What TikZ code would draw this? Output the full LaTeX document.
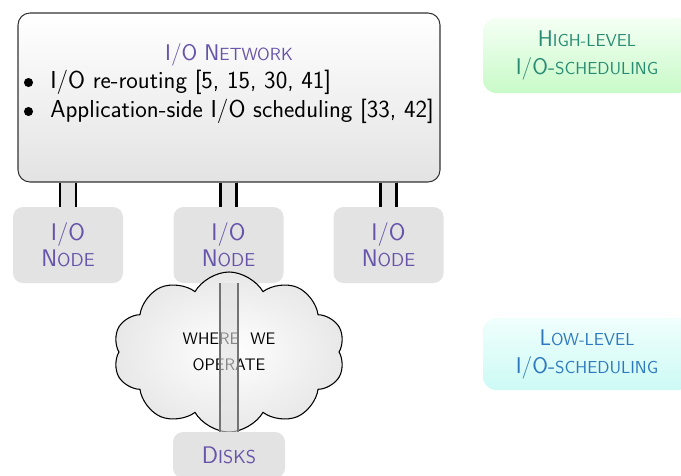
\documentclass[tikz,border=0pt]{standalone}
\usepackage{fontspec}
\usetikzlibrary{shapes.symbols}
\definecolor{ttl}{RGB}{103,84,170}
\definecolor{hitxt}{RGB}{40,140,115}
\definecolor{lotxt}{RGB}{45,120,190}
\definecolor{hitop}{RGB}{245,255,245}
\definecolor{hibot}{RGB}{200,250,200}
\definecolor{lotop}{RGB}{240,255,252}
\definecolor{lobot}{RGB}{205,250,245}
\newcommand\fs[2]{{\fontsize{#1}{#1}\selectfont #2}}
\tikzset{
  netbox/.style={draw=black!80, line width=0.8pt, rounded corners=9pt, top color=white, bottom color=black!11,
    minimum width=316.5pt, minimum height=126.75pt},
  ionode/.style={fill=black!11, rounded corners=7.5pt, minimum width=82.5pt, minimum height=57pt,
    text=ttl, align=center, font=\sffamily\fontsize{18}{19.5}\selectfont},
  sidebox/.style={rounded corners=10pt, minimum width=156pt, align=center,
    font=\sffamily\fontsize{17}{21}\selectfont},
  bodytext/.style={anchor=base west, font=\sffamily\fontsize{18.4}{20}\selectfont, inner sep=0pt},
  bulletdot/.style={fill=black, circle, inner sep=0pt, minimum size=6.8pt},
  linkfill/.style={fill=black!11},
  linkline/.style={draw=black, line width=1.8pt},
  thrufill/.style={fill=black!12, fill opacity=0.6},
  thruline/.style={draw=black!55, line width=1.6pt},
}
\begin{document}
\begin{tikzpicture}[x=0.75pt,y=-0.75pt]
\useasboundingbox (0,0) rectangle (681,475);
\clip (0,0) rectangle (681,475);
% network box
\node[netbox] (net) at (229,97.5) {};
\node[text=ttl, font=\sffamily\fontsize{17}{20}\selectfont, anchor=base] (nettitle) at (229,60) {I/O N\fs{13.2}{ETWORK}};
\node[bulletdot] (d1) at (28.5,82.5) {};
\node[bodytext] (b1) at (50,88) {I/O re-routing [5, 15, 30, 41]};
\node[bulletdot] (d2) at (28.5,111.5) {};
\node[bodytext] (b2) at (50,117) {Application-side I/O scheduling [33, 42]};
% io nodes
\node[ionode] (ioL) at (68,245) {I/O\\N\fs{14}{ODE}};
\node[ionode] (ioM) at (228.5,245) {I/O\\N\fs{14}{ODE}};
\node[ionode] (ioR) at (388.5,245) {I/O\\N\fs{14}{ODE}};
% connectors
\foreach \n in {ioL,ioM,ioR}{
  \path[linkfill] ([xshift=-6pt]net.south -| \n.north) rectangle ([xshift=6pt]\n.north);
  \draw[linkline] ([xshift=-6pt]net.south -| \n.north) -- ([xshift=-6pt]\n.north);
  \draw[linkline] ([xshift=6pt]net.south -| \n.north) -- ([xshift=6pt]\n.north);
}
% cloud
\node[cloud, cloud puffs=10, cloud puff arc=120, aspect=1.8, draw=black, line width=0.8pt, shading=radial, inner color=white, outer color=black!9,
  minimum width=174pt, minimum height=120pt, align=center,
  font=\sffamily\fontsize{12.5}{20}\selectfont] (cloud) at (229,352) {WHERE\ \ WE\\OPERATE};
% disks
\node[ionode, minimum width=84pt, minimum height=34.5pt] (disks) at (229,455) {D\fs{14}{ISKS}};
% through link
\path[thrufill] ([xshift=-6.75pt]ioM.south -| disks.north) rectangle ([xshift=6.75pt]disks.north);
\draw[thruline] ([xshift=-6.75pt]ioM.south -| disks.north) -- ([xshift=-6.75pt]disks.north);
\draw[thruline] ([xshift=6.75pt]ioM.south -| disks.north) -- ([xshift=6.75pt]disks.north);
% side boxes
\node[sidebox, top color=hitop, bottom color=hibot, minimum height=56.25pt, text=hitxt] (hi) at (587,55.5)
  {H\fs{13}{IGH-LEVEL}\\I/O-\fs{13}{SCHEDULING}};
\node[sidebox, top color=lotop, bottom color=lobot, minimum height=54pt, text=lotxt] (lo) at (587,354)
  {L\fs{13}{OW-LEVEL}\\I/O-\fs{13}{SCHEDULING}};
\end{tikzpicture}
\end{document}
